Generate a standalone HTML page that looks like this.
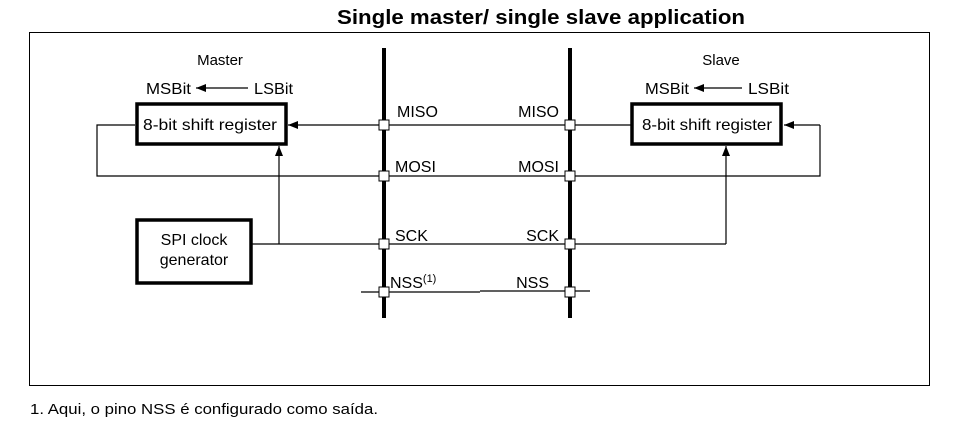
<!DOCTYPE html>
<html><head><meta charset="utf-8"><style>
html,body{margin:0;padding:0;background:#fff;}
svg{display:block;font-family:"Liberation Sans",Arial,sans-serif;}
</style></head><body>
<svg width="956" height="421" viewBox="0 0 956 421" xmlns="http://www.w3.org/2000/svg">
<defs>
<marker id="a" markerWidth="10" markerHeight="8" refX="10" refY="4" orient="auto" markerUnits="userSpaceOnUse">
<path d="M0,0 L10,4 L0,8 z" fill="#000"/></marker>
</defs>
<text x="541" y="24" font-size="20" font-weight="bold" text-anchor="middle" textLength="408" lengthAdjust="spacingAndGlyphs">Single master/ single slave application</text>
<rect x="29.5" y="32.5" width="900" height="353" fill="none" stroke="#000" stroke-width="1"/>
<g stroke="#000" stroke-width="1.2" fill="none">
<line x1="384" y1="125" x2="288" y2="125" marker-end="url(#a)"/>
<polyline points="135,125 97,125 97,176 570,176"/>
<line x1="384" y1="125" x2="631" y2="125"/>
<polyline points="252,244 570,244"/>
<line x1="279" y1="244" x2="279" y2="146" marker-end="url(#a)"/>
<line x1="361" y1="292" x2="480" y2="292"/>
<line x1="480" y1="291" x2="590" y2="291"/>
<polyline points="570,176 820,176 820,125"/>
<line x1="820" y1="125" x2="784" y2="125" marker-end="url(#a)"/>
<polyline points="570,244 726,244"/>
<line x1="726" y1="244" x2="726" y2="146" marker-end="url(#a)"/>
<line x1="248" y1="88" x2="196" y2="88" marker-end="url(#a)"/>
<line x1="742" y1="88" x2="694" y2="88" marker-end="url(#a)"/>
</g>
<g stroke="#000" stroke-width="4">
<line x1="384" y1="48" x2="384" y2="318"/>
<line x1="570" y1="48" x2="570" y2="318"/>
</g>
<g fill="#fff" stroke="#000" stroke-width="3.5">
<rect x="137" y="104" width="149" height="40"/>
<rect x="137" y="220" width="114" height="63"/>
<rect x="632" y="104" width="149" height="40"/>
</g>
<g fill="#fff" stroke="#000" stroke-width="1">
<rect x="379" y="120" width="10" height="10"/>
<rect x="379" y="171" width="10" height="10"/>
<rect x="379" y="239" width="10" height="10"/>
<rect x="379" y="287" width="10" height="10"/>
<rect x="565" y="120" width="10" height="10"/>
<rect x="565" y="171" width="10" height="10"/>
<rect x="565" y="239" width="10" height="10"/>
<rect x="565" y="287" width="10" height="10"/>
</g>
<g font-size="16" fill="#000">
<text x="220" y="65" text-anchor="middle" font-size="15">Master</text>
<text x="146" y="94" textLength="45" lengthAdjust="spacingAndGlyphs">MSBit</text>
<text x="254" y="94" textLength="39" lengthAdjust="spacingAndGlyphs">LSBit</text>
<text x="143" y="130" textLength="134" lengthAdjust="spacingAndGlyphs">8-bit shift register</text>
<text x="194" y="245" text-anchor="middle">SPI clock</text>
<text x="194" y="265" text-anchor="middle">generator</text>
<text x="721" y="65" text-anchor="middle" font-size="15">Slave</text>
<text x="645" y="94" textLength="44" lengthAdjust="spacingAndGlyphs">MSBit</text>
<text x="748" y="94" textLength="41" lengthAdjust="spacingAndGlyphs">LSBit</text>
<text x="642" y="130" textLength="130" lengthAdjust="spacingAndGlyphs">8-bit shift register</text>
<text x="397" y="117">MISO</text>
<text x="395" y="172">MOSI</text>
<text x="395" y="241">SCK</text>
<text x="390" y="288">NSS<tspan font-size="11" dy="-6">(1)</tspan></text>
<text x="559" y="117" text-anchor="end">MISO</text>
<text x="559" y="172" text-anchor="end">MOSI</text>
<text x="559" y="241" text-anchor="end">SCK</text>
<text x="549" y="288" text-anchor="end">NSS</text>
<text x="30" y="414" font-size="15" textLength="348" lengthAdjust="spacingAndGlyphs">1.  Aqui, o pino NSS é configurado como saída.</text>
</g>
</svg>
</body></html>
